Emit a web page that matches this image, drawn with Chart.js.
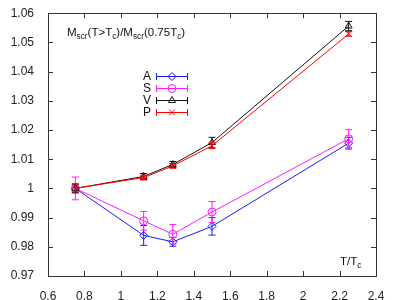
<!DOCTYPE html>
<html>
<head>
<meta charset="utf-8">
<script src="https://cdn.jsdelivr.net/npm/chart.js@4/dist/chart.umd.min.js"></script>
<style>
  html, body { margin: 0; padding: 0; background: #fff; }
  #wrap { width: 395px; height: 300px; position: relative; }
</style>
</head>
<body>
<div id="wrap"><canvas id="c"></canvas></div>
<script>
// --- Data ---

const T_VALUES = [0.75, 1.125, 1.285, 1.5, 2.25];

const A_VALUES = [1.0, 0.9839, 0.9817, 0.987, 1.0155];
const A_ERRORS = [0.0015, 0.0034, 0.0015, 0.003, 0.002];

const S_VALUES = [1.0, 0.9889, 0.9843, 0.9919, 1.017];
const S_ERRORS = [0.0039, 0.0032, 0.0033, 0.0036, 0.0031];

const V_VALUES = [1.0, 1.0041, 1.0082, 1.0157, 1.0556];
const V_ERRORS = [0.0015, 0.001, 0.001, 0.0018, 0.0016];

const P_VALUES = [1.0, 1.0037, 1.0077, 1.0146, 1.0529];
const P_ERRORS = [0.0012, 0.0008, 0.0008, 0.001, 0.0008];

const SERIES_NAMES = ['A', 'S', 'V', 'P'];

const X_MIN = 0.6, X_MAX = 2.4, X_STEP = 0.2;
const Y_MIN = 0.97, Y_MAX = 1.06, Y_STEP = 0.01;

const FONT = '"Liberation Sans", Arial, Helvetica, sans-serif';

// --- Datasets ---

function series(label, vals, errs, color, style, order) {
  return {
    label,
    data: T_VALUES.map((t, i) => ({ x: t, y: vals[i] })),
    errors: errs,
    borderColor: color,
    backgroundColor: 'rgba(0,0,0,0)',
    borderWidth: 1,
    pointStyle: style,
    pointRadius: 4,
    pointBorderWidth: 1,
    pointBorderColor: color,
    pointBackgroundColor: 'rgba(0,0,0,0)',
    showLine: true, tension: 0, fill: false,
    order
  };
}

const datasets = [
  series(SERIES_NAMES[0], A_VALUES, A_ERRORS, '#1a1aff', 'rectRot', 3),
  series(SERIES_NAMES[1], S_VALUES, S_ERRORS, '#ff1aff', 'circle', 2),
  series(SERIES_NAMES[2], V_VALUES, V_ERRORS, '#111111', 'triangle', 1),
  series(SERIES_NAMES[3], P_VALUES, P_ERRORS, '#ff0000', 'crossRot', 0)
];

// --- Plugins ---

// vertical error bars with caps, drawn just under each dataset's line
const errorBars = {
  id: 'errorBars',
  beforeDatasetDraw(chart, args) {
    const ds = chart.data.datasets[args.index];
    const xs = chart.scales.x, ys = chart.scales.y;
    const ctx = chart.ctx;
    ctx.save();
    ctx.strokeStyle = ds.borderColor;
    ctx.lineWidth = 1;
    ds.data.forEach((p, i) => {
      const x = xs.getPixelForValue(p.x);
      const y1 = ys.getPixelForValue(p.y - ds.errors[i]);
      const y2 = ys.getPixelForValue(p.y + ds.errors[i]);
      ctx.beginPath();
      ctx.moveTo(x, y1); ctx.lineTo(x, y2);
      ctx.moveTo(x - 3.5, y1); ctx.lineTo(x + 3.5, y1);
      ctx.moveTo(x - 3.5, y2); ctx.lineTo(x + 3.5, y2);
      ctx.stroke();
    });
    ctx.restore();
  }
};

// gnuplot-like frame with inward ticks on all four sides
const frame = {
  id: 'frame',
  afterDraw(chart) {
    const { ctx, chartArea: a, scales } = chart;
    ctx.save();
    ctx.strokeStyle = '#333';
    ctx.lineWidth = 1;
    ctx.strokeRect(Math.round(a.left) + 0.5, Math.round(a.top) + 0.5,
      Math.round(a.right - a.left), Math.round(a.bottom - a.top));
    ctx.beginPath();
    scales.x.ticks.forEach(t => {
      const x = Math.round(scales.x.getPixelForValue(t.value)) + 0.5;
      ctx.moveTo(x, a.bottom); ctx.lineTo(x, a.bottom - 5);
      ctx.moveTo(x, a.top); ctx.lineTo(x, a.top + 5);
    });
    scales.y.ticks.forEach(t => {
      const y = Math.round(scales.y.getPixelForValue(t.value)) + 0.5;
      ctx.moveTo(a.left, y); ctx.lineTo(a.left + 5, y);
      ctx.moveTo(a.right, y); ctx.lineTo(a.right - 5, y);
    });
    ctx.stroke();
    ctx.restore();
  }
};

// text with subscripts: parts = [[text, isSub], ...]
function drawSubText(ctx, parts, x, y, size) {
  let cx = x;
  parts.forEach(([txt, sub]) => {
    ctx.font = (sub ? size * 0.72 : size) + 'px ' + FONT;
    ctx.fillText(txt, cx, sub ? y + size * 0.3 : y);
    cx += ctx.measureText(txt).width;
  });
}

const annotations = {
  id: 'annotations',
  afterDraw(chart) {
    const ctx = chart.ctx;
    ctx.save();
    ctx.fillStyle = '#111';
    ctx.textBaseline = 'middle';
    ctx.textAlign = 'left';
    drawSubText(ctx, [['M', 0], ['scr', 1], ['(T>T', 0], ['c', 1], [')/M', 0],
      ['scr', 1], ['(0.75T', 0], ['c', 1], [')', 0]], 67, 33, 11.5);
    drawSubText(ctx, [['T/T', 0], ['c', 1]], 340, 262, 11.5);

    // legend: label, error-bar line, hollow marker
    chart.data.datasets.forEach((ds, i) => {
      const y = 76 + i * 12;
      ctx.font = '12px ' + FONT;
      ctx.textAlign = 'right';
      ctx.fillStyle = '#111';
      ctx.fillText(ds.label, 151, y + 0.5);
      ctx.strokeStyle = ds.borderColor;
      ctx.lineWidth = 1;
      ctx.beginPath();
      ctx.moveTo(156, y + 0.5); ctx.lineTo(188, y + 0.5);
      ctx.moveTo(156.5, y - 3); ctx.lineTo(156.5, y + 4);
      ctx.moveTo(187.5, y - 3); ctx.lineTo(187.5, y + 4);
      ctx.stroke();
      ctx.fillStyle = 'rgba(0,0,0,0)';
      Chart.helpers.drawPoint(ctx, {
        pointStyle: ds.pointStyle, radius: 4, borderWidth: 1, rotation: 0
      }, 172, y + 0.5);
    });
    ctx.restore();
  }
};

// --- Chart ---

function fmt(v) { return String(parseFloat(Number(v).toFixed(2))); }

new Chart(document.getElementById('c'), {
  type: 'scatter',
  data: { datasets },
  options: {
    responsive: true,
    maintainAspectRatio: false,
    animation: false,
    layout: { padding: { top: 12, right: 19, left: 0, bottom: 0 } },
    plugins: { legend: { display: false }, tooltip: { enabled: false } },
    scales: {
      x: {
        type: 'linear', min: X_MIN, max: X_MAX,
        ticks: { stepSize: X_STEP, color: '#222', padding: 5, maxRotation: 0,
          font: { family: FONT, size: 12 }, callback: fmt },
        grid: { display: false },
        border: { display: false },
        afterFit(s) { s.height = 24; }
      },
      y: {
        type: 'linear', min: Y_MIN, max: Y_MAX,
        ticks: { stepSize: Y_STEP, color: '#222', padding: 6,
          font: { family: FONT, size: 12 }, callback: fmt },
        grid: { display: false },
        border: { display: false },
        afterFit(s) { s.width = 48; }
      }
    }
  },
  plugins: [errorBars, frame, annotations]
});
</script>
</body>
</html>
